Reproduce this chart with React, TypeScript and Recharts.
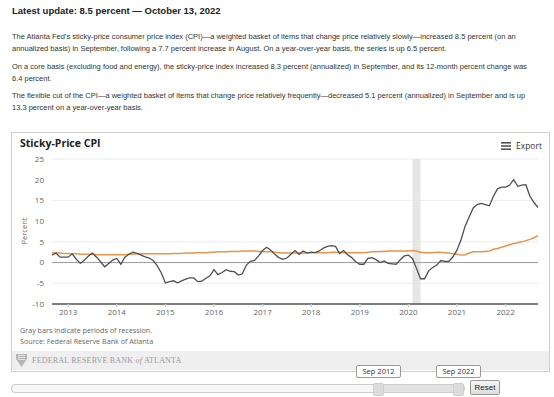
import React from 'react';
import {
  LineChart,
  Line,
  XAxis,
  YAxis,
  CartesianGrid,
  ReferenceArea,
  ReferenceLine,
} from 'recharts';

// monthly, Sep 2012 .. Sep 2022 (12-month percent change)
const START_YEAR = 2012;
const START_MONTH = 8; // September, 0-based

const flexibleCpi = [
  1.8, 2.3, 1.3, 1.3, 1.3, 2.1, 0.8, -0.2, 0.6, 1.6, 2.3, 1.3,
  0.2, -1.0, -0.2, 0.6, 1.0, -0.4, 1.3, 2.0, 2.5, 2.2, 1.8, 1.4,
  1.1, 0.5, -0.8, -2.5, -4.9, -4.6, -4.4, -4.9, -4.4, -4.0, -3.7, -3.7,
  -4.6, -4.5, -3.8, -3.2, -1.7, -2.9, -2.4, -1.7, -2.1, -2.2, -3.0, -2.7,
  -0.6, 0.3, 0.5, 1.6, 2.9, 3.7, 3.0, 2.0, 1.2, 0.8, 1.1, 2.0,
  2.9, 2.0, 2.8, 2.3, 2.5, 2.4, 2.8, 3.5, 3.9, 4.1, 3.9, 2.2,
  2.9, 1.9, 1.2, 0.2, -0.4, -0.4, 1.0, 1.2, 0.7, 0.0, 0.4, -0.2,
  -0.3, -0.4, 0.7, 1.6, 1.8, 1.0, -1.4, -3.9, -3.9, -2.0, -1.2, -0.6,
  0.5, 0.3, 0.3, 1.4, 3.0, 5.5, 8.8, 11.0, 13.2, 14.0, 14.3, 14.0,
  13.7, 16.0, 17.8, 18.2, 18.2, 18.7, 20.0, 18.4, 18.7, 18.8, 16.0, 14.5,
  13.3,
];

const stickyCpi = [
  2.4, 2.3, 2.3, 2.2, 2.2, 2.1, 2.1, 2.0, 2.0, 2.0, 2.0, 1.9,
  1.9, 1.9, 1.9, 1.9, 1.9, 1.9, 1.9, 2.0, 2.0, 2.1, 2.1, 2.1,
  2.1, 2.1, 2.1, 2.1, 2.1, 2.1, 2.2, 2.2, 2.2, 2.3, 2.3, 2.3,
  2.4, 2.4, 2.4, 2.5, 2.5, 2.6, 2.6, 2.6, 2.7, 2.7, 2.7, 2.8,
  2.8, 2.8, 2.8, 2.7, 2.7, 2.6, 2.6, 2.5, 2.4, 2.3, 2.3, 2.3,
  2.3, 2.3, 2.3, 2.3, 2.4, 2.4, 2.4, 2.4, 2.4, 2.5, 2.5, 2.5,
  2.4, 2.4, 2.4, 2.4, 2.4, 2.4, 2.5, 2.6, 2.6, 2.7, 2.7, 2.8,
  2.8, 2.8, 2.8, 2.8, 2.8, 2.9, 2.8, 2.5, 2.4, 2.4, 2.4, 2.5,
  2.5, 2.4, 2.3, 2.1, 2.0, 1.8, 1.9, 2.3, 2.6, 2.6, 2.6, 2.7,
  2.8, 3.2, 3.4, 3.7, 4.0, 4.3, 4.6, 4.8, 5.0, 5.3, 5.6, 6.0,
  6.5,
];

const yTicks = [-10, -5, 0, 5, 10, 15, 20, 25];
// January of each year, as month index from Sep 2012
const yearTicks = [4, 16, 28, 40, 52, 64, 76, 88, 100, 112];
const recession = { from: 89, to: 91 }; // Feb 2020 - Apr 2020

const introLines = [
  [
    "The Atlanta Fed's sticky-price consumer price index (CPI)\u2014a weighted basket of items that change price relatively slowly\u2014increased 8.5 percent (on an",
    'annualized basis) in September, following a 7.7 percent increase in August. On a year-over-year basis, the series is up 6.5 percent.',
  ],
  [
    'On a core basis (excluding food and energy), the sticky-price index increased 8.3 percent (annualized) in September, and its 12-month percent change was',
    '6.4 percent.',
  ],
  [
    'The flexible cut of the CPI\u2014a weighted basket of items that change price relatively frequently\u2014decreased 5.1 percent (annualized) in September and is up',
    '13.3 percent on a year-over-year basis.',
  ],
];

const MONTHS = ['Jan', 'Feb', 'Mar', 'Apr', 'May', 'Jun', 'Jul', 'Aug', 'Sep', 'Oct', 'Nov', 'Dec'];

const rows = flexibleCpi.map((v, i) => {
  const m = START_MONTH + i;
  return {
    t: i,
    month: `${MONTHS[m % 12]} ${START_YEAR + Math.floor(m / 12)}`,
    flexible: v,
    sticky: stickyCpi[i],
  };
});

const chartFont = '"Open Sans", "Noto Sans", sans-serif';

export default function App() {
  return (
    <div
      style={{
        position: 'absolute',
        left: 0,
        top: 0,
        width: 554,
        height: 397,
        background: '#fff',
        fontFamily: '"Liberation Sans", Arial, sans-serif',
        color: '#333',
        overflow: 'hidden',
      }}
    >
      <div style={{ position: 'absolute', left: 12, top: 4.5, fontSize: 9.5, fontWeight: 'bold', color: '#222', whiteSpace: 'nowrap' }}>
        Latest update: 8.5 percent — October 13, 2022
      </div>
      {introLines.map((para, pi) => (
        <div key={pi} style={{ position: 'absolute', left: 12, top: 31 + pi * 29.5, fontSize: 7.5, lineHeight: '12px', whiteSpace: 'nowrap' }}>
          {para.map((l, li) => (
            <div key={li}>{l}</div>
          ))}
        </div>
      ))}

      {/* chart frame */}
      <div style={{ position: 'absolute', left: 11, top: 132, width: 537, height: 238, border: '1px solid #d0d0d0' }} />
      <div style={{ position: 'absolute', left: 12, top: 351, width: 537, height: 19, background: '#efefef' }} />

      <div style={{ position: 'absolute', left: 0, top: 0 }}>
        <LineChart
          width={554}
          height={324}
          data={rows}
          margin={{ top: 159, right: 16, left: 22, bottom: 0 }}
        >
          <CartesianGrid stroke="#ececec" vertical={false} />
          <ReferenceArea x1={recession.from} x2={recession.to} fill="#e6e6e6" fillOpacity={1} stroke="none" />
          <XAxis
            dataKey="t"
            type="number"
            domain={[0, 120]}
            ticks={yearTicks}
            tickFormatter={(t: number) => String(START_YEAR + Math.floor((t + START_MONTH) / 12))}
            stroke="#555"
            strokeWidth={1.5}
            tickLine={{ stroke: '#ccc' }}
            tickSize={3}
            tickMargin={2}
            height={20}
            tick={{ fill: '#666', fontSize: 8, fontFamily: chartFont }}
          />
          <YAxis
            domain={[-10, 25]}
            ticks={yTicks}
            width={30}
            axisLine={false}
            tickLine={false}
            tickSize={6}
            tickMargin={2}
            tick={{ fill: '#666', fontSize: 8, fontFamily: chartFont }}
          />
          <ReferenceLine y={0} stroke="#999" strokeWidth={1} />
          <Line
            type="linear"
            dataKey="sticky"
            stroke="#e9944a"
            strokeWidth={1.5}
            dot={false}
            isAnimationActive={false}
          />
          <Line
            type="linear"
            dataKey="flexible"
            stroke="#4f4f4f"
            strokeWidth={1.3}
            dot={false}
            isAnimationActive={false}
          />
        </LineChart>
      </div>

      <div style={{ position: 'absolute', left: 20, top: 136, fontSize: 10.5, fontWeight: 'bold', fontFamily: chartFont, color: '#222', whiteSpace: 'nowrap' }}>
        Sticky-Price CPI
      </div>
      <svg style={{ position: 'absolute', left: 501, top: 142 }} width={10} height={8}>
        <rect x={0} y={0} width={10} height={1.6} fill="#555" />
        <rect x={0} y={3.2} width={10} height={1.6} fill="#555" />
        <rect x={0} y={6.4} width={10} height={1.6} fill="#555" />
      </svg>
      <div style={{ position: 'absolute', left: 516, top: 140, fontSize: 8.5, fontFamily: chartFont, color: '#333' }}>Export</div>

      <div
        style={{
          position: 'absolute',
          left: 24,
          top: 231,
          transform: 'translate(-50%, -50%) rotate(-90deg)',
          fontSize: 7.5,
          fontFamily: chartFont,
          color: '#666',
          whiteSpace: 'nowrap',
        }}
      >
        Percent
      </div>

      <div style={{ position: 'absolute', left: 20, top: 325, fontSize: 7.2, lineHeight: '10.6px', fontFamily: chartFont, color: '#666', whiteSpace: 'nowrap' }}>
        <div>Gray bars indicate periods of recession.</div>
        <div>Source: Federal Reserve Bank of Atlanta</div>
      </div>

      {/* bank logo band */}
      <svg style={{ position: 'absolute', left: 16, top: 354 }} width={11} height={13}>
        <path d="M0 0 H11 V5 L5.5 13 L0 5 Z" fill="#b5b5b5" />
        <path d="M2 1.5 H9 M2 3.5 H9 M2 5.5 H9" stroke="#eee" strokeWidth={0.8} />
      </svg>
      <div
        style={{
          position: 'absolute',
          left: 32,
          top: 356,
          fontSize: 8,
          fontFamily: '"Liberation Serif", "DejaVu Serif", serif',
          color: '#9a9a9a',
          whiteSpace: 'nowrap',
          letterSpacing: 0.2,
        }}
      >
        FEDERAL RESERVE BANK <i>of</i> ATLANTA
      </div>

      {/* navigator */}
      <div style={{ position: 'absolute', left: 11, top: 384, width: 452, height: 7, border: '1px solid #ccc', borderRadius: 4, background: '#f7f7f7' }} />
      <div style={{ position: 'absolute', left: 377, top: 385, width: 82, height: 7, background: '#e2e2e2' }} />
      <div style={{ position: 'absolute', left: 373, top: 383, width: 9, height: 11, background: '#dcdcdc', border: '1px solid #cfcfcf', borderRadius: 2 }} />
      <div style={{ position: 'absolute', left: 453, top: 383, width: 9, height: 11, background: '#dcdcdc', border: '1px solid #cfcfcf', borderRadius: 2 }} />
      {[
        { label: 'Sep 2012', left: 356 },
        { label: 'Sep 2022', left: 436 },
      ].map((b) => (
        <div
          key={b.label}
          style={{
            position: 'absolute',
            left: b.left,
            top: 365,
            width: 43,
            height: 11,
            border: '1px solid #999',
            borderRadius: 2,
            background: '#fff',
            fontSize: 7.5,
            lineHeight: '11px',
            textAlign: 'center',
            fontFamily: chartFont,
            color: '#333',
          }}
        >
          {b.label}
        </div>
      ))}
      <div
        style={{
          position: 'absolute',
          left: 470,
          top: 380,
          width: 28,
          height: 13,
          border: '1px solid #999',
          borderRadius: 2,
          background: 'linear-gradient(#f6f6f6, #dedede)',
          fontSize: 8,
          lineHeight: '13px',
          textAlign: 'center',
          color: '#222',
        }}
      >
        Reset
      </div>
    </div>
  );
}
